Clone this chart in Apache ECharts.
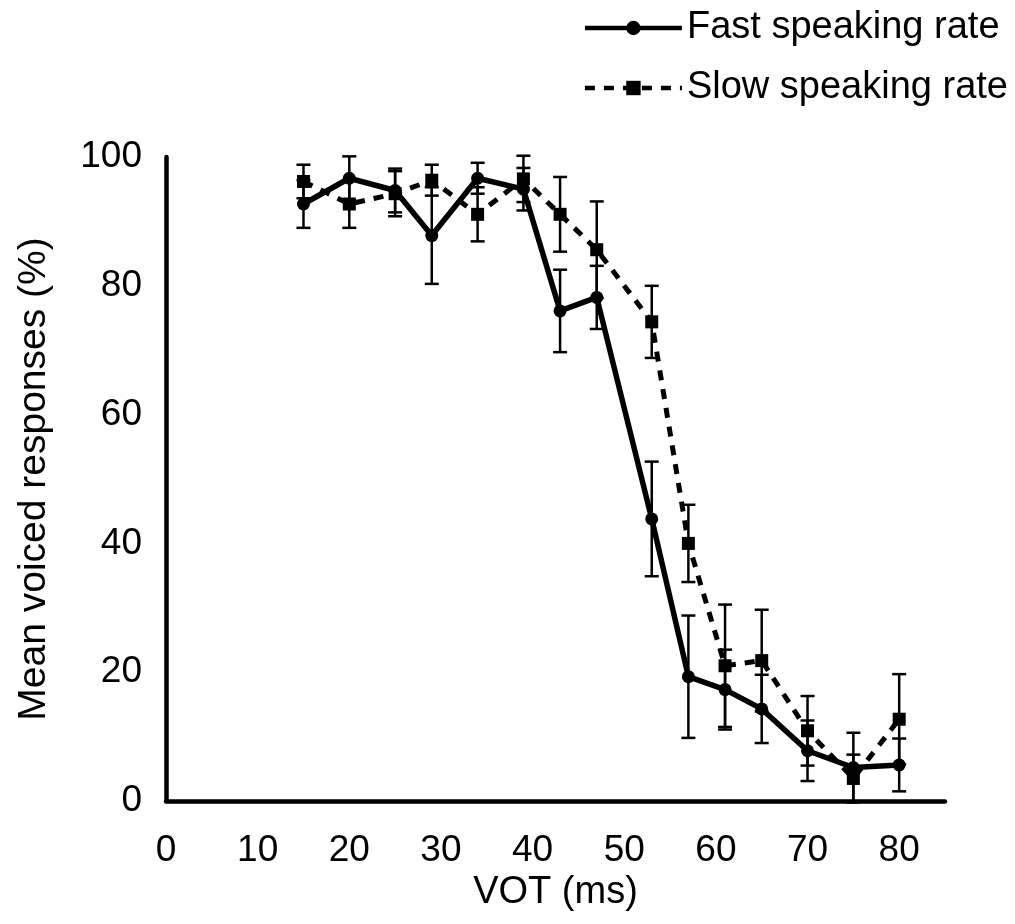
<!DOCTYPE html>
<html>
<head>
<meta charset="utf-8">
<script src="https://cdn.jsdelivr.net/npm/echarts@6/dist/echarts.min.js"></script>
<style>html,body{margin:0;padding:0;background:#fff;}#chart{width:1015px;height:924px;}</style>
</head>
<body>
<div id="chart"></div>
<script>
// VOT steps (ms)
const vot = [15, 20, 25, 29, 34, 39, 43, 47, 53, 57, 61, 65, 70, 75, 80];
// Fast speaking rate: mean voiced responses (%) and error
const fastMean = [92.7, 96.7, 94.8, 87.8, 96.7, 95.0, 76.1, 78.2, 43.8, 19.3, 17.3, 14.3, 7.8, 5.2, 5.6];
const fastErr  = [3.7, 3.4, 3.4, 7.5, 2.4, 3.3, 6.4, 4.9, 8.9, 9.5, 6.2, 5.3, 4.7, 5.4, 4.1];
// Slow speaking rate
const slowMean = [96.2, 92.7, 94.3, 96.4, 91.1, 96.6, 91.1, 85.6, 74.4, 40.0, 21.0, 21.8, 10.9, 3.5, 12.7];
const slowErr  = [2.6, 3.7, 3.5, 2.4, 4.2, 3.6, 5.8, 7.5, 5.6, 6.0, 9.5, 7.9, 5.4, 3.7, 7.0];
const seriesNames = ['Fast speaking rate', 'Slow speaking rate'];
const xTitle = 'VOT (ms)';
const yTitle = 'Mean voiced responses (%)';

const FONT = '"Liberation Sans", Arial, sans-serif';

function pts(m) { return vot.map((x, i) => [x, m[i]]); }
function errs(m, e) { return vot.map((x, i) => [x, m[i] - e[i], m[i] + e[i]]); }

function errRender(params, api) {
  const x = api.value(0);
  const lo = api.coord([x, api.value(1)]);
  const hi = api.coord([x, api.value(2)]);
  const cw = 7;
  const st = { stroke: '#000', lineWidth: 2.5 };
  return {
    type: 'group',
    children: [
      { type: 'line', shape: { x1: lo[0], y1: lo[1], x2: hi[0], y2: hi[1] }, style: st },
      { type: 'line', shape: { x1: lo[0] - cw, y1: lo[1], x2: lo[0] + cw, y2: lo[1] }, style: st },
      { type: 'line', shape: { x1: hi[0] - cw, y1: hi[1], x2: hi[0] + cw, y2: hi[1] }, style: st }
    ]
  };
}

const chart = echarts.init(document.getElementById('chart'), null, { renderer: 'canvas' });
chart.setOption({
  animation: false,
  backgroundColor: '#fff',
  textStyle: { fontFamily: FONT, color: '#000' },
  grid: { left: 166, right: 70, top: 157, bottom: 123 },
  legend: {
    data: seriesNames,
    orient: 'vertical',
    right: 2,
    top: 4,
    itemWidth: 97,
    itemHeight: 18,
    itemGap: 22,
    textStyle: { fontFamily: FONT, fontSize: 38, color: '#000' },
    lineStyle: { width: 4.5 }
  },
  xAxis: {
    type: 'value',
    min: 0, max: 85, interval: 10,
    name: xTitle,
    nameLocation: 'middle',
    nameGap: 61,
    nameTextStyle: { fontFamily: FONT, fontSize: 38, color: '#000' },
    axisLine: { lineStyle: { color: '#000', width: 4.5 } },
    axisTick: { show: false },
    splitLine: { show: false },
    axisLabel: { fontFamily: FONT, fontSize: 37, color: '#000', margin: 31, showMaxLabel: false }
  },
  yAxis: {
    type: 'value',
    min: 0, max: 100, interval: 20,
    name: yTitle,
    nameLocation: 'middle',
    nameGap: 112,
    nameTextStyle: { fontFamily: FONT, fontSize: 39, color: '#000' },
    axisLine: { show: true, lineStyle: { color: '#000', width: 4.5 } },
    axisTick: { show: false },
    splitLine: { show: false },
    axisLabel: { fontFamily: FONT, fontSize: 37, color: '#000', margin: 24 }
  },
  series: [
    {
      type: 'custom', name: 'fastErr', renderItem: errRender,
      data: errs(fastMean, fastErr), encode: { x: 0, y: [1, 2] }, z: 1, silent: true
    },
    {
      type: 'custom', name: 'slowErr', renderItem: errRender,
      data: errs(slowMean, slowErr), encode: { x: 0, y: [1, 2] }, z: 1, silent: true
    },
    {
      type: 'line', name: seriesNames[1], data: pts(slowMean),
      symbol: 'rect', symbolSize: 13,
      lineStyle: { color: '#000', width: 5, type: [10, 9] },
      itemStyle: { color: '#000' }, z: 3
    },
    {
      type: 'line', name: seriesNames[0], data: pts(fastMean),
      symbol: 'circle', symbolSize: 13,
      lineStyle: { color: '#000', width: 5.5, type: 'solid' },
      itemStyle: { color: '#000' }, z: 4
    }
  ]
});
</script>
</body>
</html>
